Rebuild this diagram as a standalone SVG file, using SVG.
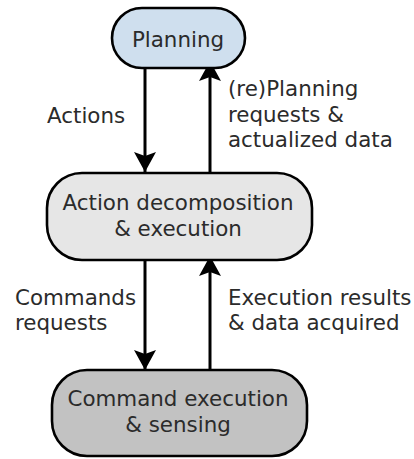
<svg xmlns="http://www.w3.org/2000/svg" width="414" height="459" viewBox="0 0 414 459">
<defs>
<style>
.box{stroke:#000;stroke-width:2.6}
.t{font-family:"DejaVu Sans",sans-serif;font-size:21.4px;fill:#2b2b2b}
.c{text-anchor:middle}
.ln{stroke:#000;stroke-width:3;fill:none}
</style>
<marker id="ah" viewBox="0 0 22 22" markerWidth="22" markerHeight="22" refX="20" refY="11" orient="auto" markerUnits="userSpaceOnUse">
<path d="M0,0 L20,11 L0,22 L4,11 Z" fill="#000"/>
</marker>
</defs>
<rect width="414" height="459" fill="#fff"/>
<g id="connectors">
<line class="ln" x1="145" y1="68" x2="145" y2="172" marker-end="url(#ah)"/>
<line class="ln" x1="210" y1="173" x2="210" y2="61" marker-end="url(#ah)"/>
<line class="ln" x1="145" y1="260" x2="145" y2="370" marker-end="url(#ah)"/>
<line class="ln" x1="210" y1="370" x2="210" y2="256" marker-end="url(#ah)"/>
</g>
<g id="planning">
<rect class="box" x="112" y="8" width="133" height="60" rx="30" fill="#cfdfee"/>
<text class="t c" x="178" y="47">Planning</text>
</g>
<g id="action">
<rect class="box" x="47" y="173" width="265" height="87" rx="35" fill="#e6e6e6"/>
<text class="t c" x="178" y="210">Action decomposition</text>
<text class="t c" x="178" y="236">&amp; execution</text>
</g>
<g id="command">
<rect class="box" x="52" y="370" width="255" height="86" rx="35" fill="#c2c2c2"/>
<text class="t c" x="178" y="406">Command execution</text>
<text class="t c" x="178" y="432">&amp; sensing</text>
</g>
<g id="labels">
<text class="t" x="47" y="123">Actions</text>
<text class="t" x="228" y="96">(re)Planning</text>
<text class="t" x="228" y="122">requests &amp;</text>
<text class="t" x="228" y="147">actualized data</text>
<text class="t" x="15" y="305">Commands</text>
<text class="t" x="15" y="330">requests</text>
<text class="t" x="228" y="305">Execution results</text>
<text class="t" x="228" y="330">&amp; data acquired</text>
</g>
</svg>
